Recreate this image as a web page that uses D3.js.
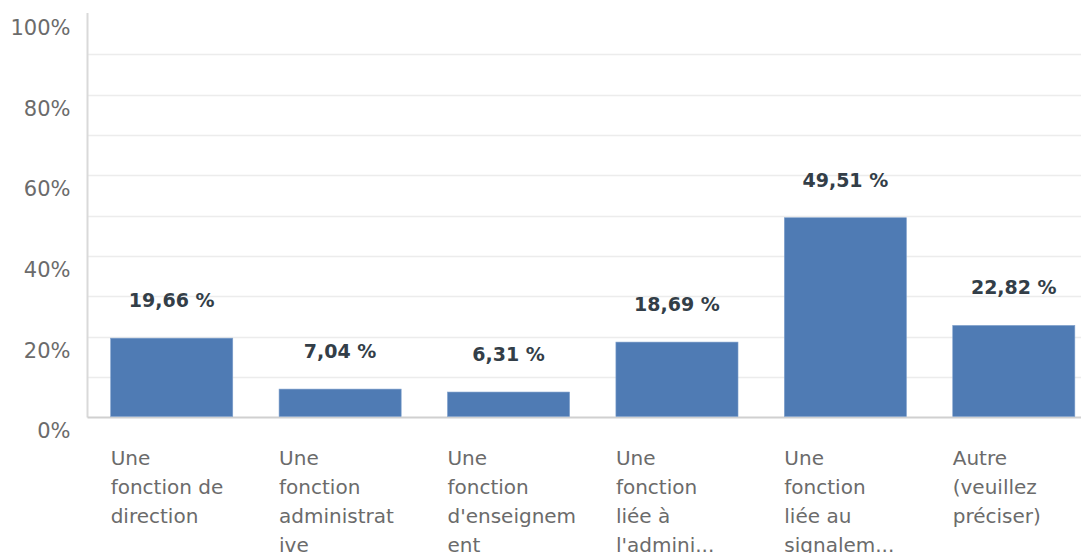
<!DOCTYPE html>
<html><head><meta charset="utf-8">
<script src="https://cdn.jsdelivr.net/npm/d3@7"></script>
<style>
html,body{margin:0;padding:0;background:#fff;overflow:hidden}
svg{display:block}
text{font-family:"DejaVu Sans","Open Sans",sans-serif}
</style></head>
<body><svg id="c" width="1081" height="553"></svg>
<script>
const categories = [
  ["Une","fonction de","direction"],
  ["Une","fonction","administrat","ive"],
  ["Une","fonction","d'enseignem","ent"],
  ["Une","fonction","liée à","l'admini..."],
  ["Une","fonction","liée au","signalem..."],
  ["Autre","(veuillez","préciser)"]
];
const values = [19.66, 7.04, 6.31, 18.69, 49.51, 22.82];
const valueLabels = ["19,66 %","7,04 %","6,31 %","18,69 %","49,51 %","22,82 %"];
const yTicks = [0,20,40,60,80,100];
const gridTicks = [10,20,30,40,50,60,70,80,90];

const svg = d3.select("#c");
const mL = 87.5, mR = 1098, mT = 14, mB = 417.5;
const x = d3.scaleBand().domain(d3.range(values.length)).range([mL, mR]).paddingInner(0.275).paddingOuter(0.1375);
const y = d3.scaleLinear().domain([0,100]).range([mB, mT]);

svg.append("g").selectAll("line").data(gridTicks).join("line")
  .attr("x1", mL).attr("x2", 1081).attr("y1", d=>Math.round(y(d))+0.5).attr("y2", d=>Math.round(y(d))+0.5)
  .attr("stroke","#ececec").attr("stroke-width",1.5);

const yAxis = svg.append("g").attr("transform",`translate(${mL},0)`)
  .call(d3.axisLeft(y).tickValues(yTicks).tickFormat(d=>d+"%").tickSize(0).tickPadding(17));
yAxis.select(".domain").remove();
yAxis.selectAll("text").attr("font-size",21).attr("fill","#6b6b6b").attr("dy","0.97em")
  .style("font-family",'"DejaVu Sans","Open Sans",sans-serif');

svg.append("line").attr("x1",mL).attr("x2",mL).attr("y1",mT-1).attr("y2",mB)
  .attr("stroke","#d9d9d9").attr("stroke-width",2);
svg.append("line").attr("x1",mL).attr("x2",1081).attr("y1",mB).attr("y2",mB)
  .attr("stroke","#d0d0d0").attr("stroke-width",2);

svg.append("g").selectAll("rect").data(values).join("rect")
  .attr("x",(d,i)=>x(i)).attr("width",x.bandwidth())
  .attr("y",d=>y(d)).attr("height",d=>mB-1-y(d))
  .attr("fill","#4f7bb4").attr("stroke","#7fa0cc").attr("stroke-width",0.6);

svg.append("g").selectAll("text").data(values).join("text")
  .attr("x",(d,i)=>x(i)+x.bandwidth()/2).attr("y",d=>y(d)-31)
  .attr("text-anchor","middle").attr("font-size",19).attr("font-weight",600).attr("fill","#333e48")
  .text((d,i)=>valueLabels[i]);

const xl = svg.append("g").selectAll("text").data(categories).join("text")
  .attr("x",(d,i)=>x(i)).attr("y",465).attr("font-size",20).attr("fill","#6b6b6b");
xl.selectAll("tspan").data(d=>d).join("tspan")
  .attr("x",function(){return d3.select(this.parentNode).attr("x");})
  .attr("dy",(d,j)=>j===0?0:29).text(d=>d);
</script></body></html>
